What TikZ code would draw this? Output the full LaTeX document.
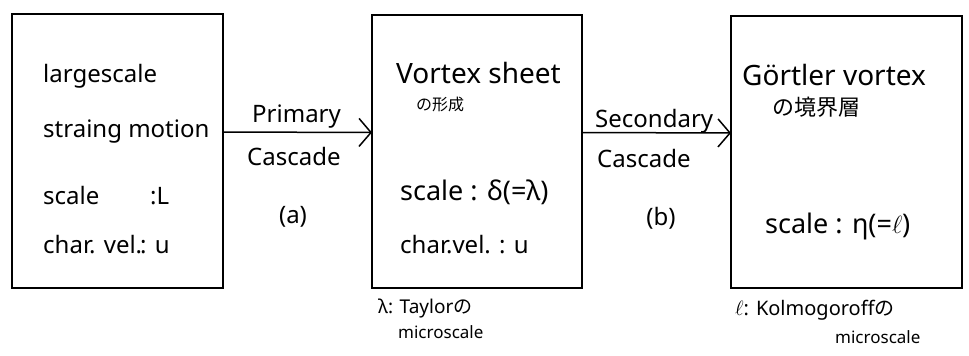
\documentclass[tikz,border=0pt]{standalone}
\usepackage{fontspec}
\setmainfont{Noto Sans}
\newfontfamily\jp{Noto Sans CJK JP}
\usetikzlibrary{arrows.meta}
\begin{document}
\begin{tikzpicture}[x=1pt,y=-1pt,
  box/.style={draw, line width=1.5pt, inner sep=0pt, outer sep=0pt},
  arr/.style={line width=1.5pt, -{Straight Barb[length=12pt,width=28pt,line width=1.5pt]}},
  txt/.style={anchor=base west, inner sep=0pt, font=\fontsize{24}{28}\selectfont},
  bigtxt/.style={anchor=base west, inner sep=0pt, font=\fontsize{27}{30}\selectfont},
  ctxt/.style={inner sep=0pt, font=\fontsize{24}{28}\selectfont},
  jtxt/.style={inner sep=0pt, font=\jp\fontsize{16}{19}\selectfont},
  jbig/.style={inner sep=0pt, font=\jp\fontsize{22}{26}\selectfont},
  ann/.style={anchor=base west, inner sep=0pt, font=\fontsize{19}{22}\selectfont},
  ann2/.style={anchor=base west, inner sep=0pt, font=\fontsize{17}{20}\selectfont},
]
\useasboundingbox (0,0) rectangle (969,356);
% boxes
\node[box, minimum width=211pt, minimum height=274pt] (b1) at (117.5,151) {};
\node[box, minimum width=210pt, minimum height=273pt] (b2) at (477,151.5) {};
\node[box, minimum width=231pt, minimum height=272pt] (b3) at (846.5,152) {};
% arrows
\draw[arr] ([yshift=19pt]b1.east) -- ([yshift=19pt]b2.west);
\draw[arr] ([yshift=19pt]b2.east) -- ([yshift=19pt]b3.west);
% box 1
\node[txt] (t11) at (43,82) {largescale};
\node[txt] (t12) at (43,137) {straing motion};
\node[txt] (t13) at (43,204) {\makebox[107pt][l]{scale}:L};
\node[txt] (t14) at (43,253) {\makebox[97pt][l]{char. vel.}: u};
% primary
\node[txt] (p1) at (252,122) {Primary};
\node[txt] (p2) at (247,165) {Cascade};
\node[ctxt] (p3) at (293,217) {(a)};
% box 2
\node[bigtxt, font=\fontsize{28}{32}\selectfont] (t21) at (396,83) {Vortex sheet};
\node[jtxt] (t22) at (440,104) {の形成};
\node[bigtxt] (t23) at (400,200) {scale : δ(=λ)};
\node[txt] (t24) at (400,253) {char.vel. : u};
\node[ann] (n21) at (378,313) {λ: Taylor{\jp の}};
\node[ann2] (n22) at (398,338) {microscale};
% secondary
\node[txt] (s1) at (595,127) {Secondary};
\node[txt] (s2) at (597,167) {Cascade};
\node[ctxt] (s3) at (661,218) {(b)};
% box 3
\node[bigtxt, font=\fontsize{28}{32}\selectfont] (t31) at (742,85) {Görtler vortex};
\node[jbig] (t32) at (816,107) {の境界層};
\node[bigtxt] (t33) at (765,233) {scale : η(=$\ell$)};
\node[ann, font=\fontsize{20}{24}\selectfont] (n31) at (735,315) {$\ell$: Kolmogoroff{\jp の}};
\node[ann2] (n32) at (835,343) {microscale};
\end{tikzpicture}
\end{document}
